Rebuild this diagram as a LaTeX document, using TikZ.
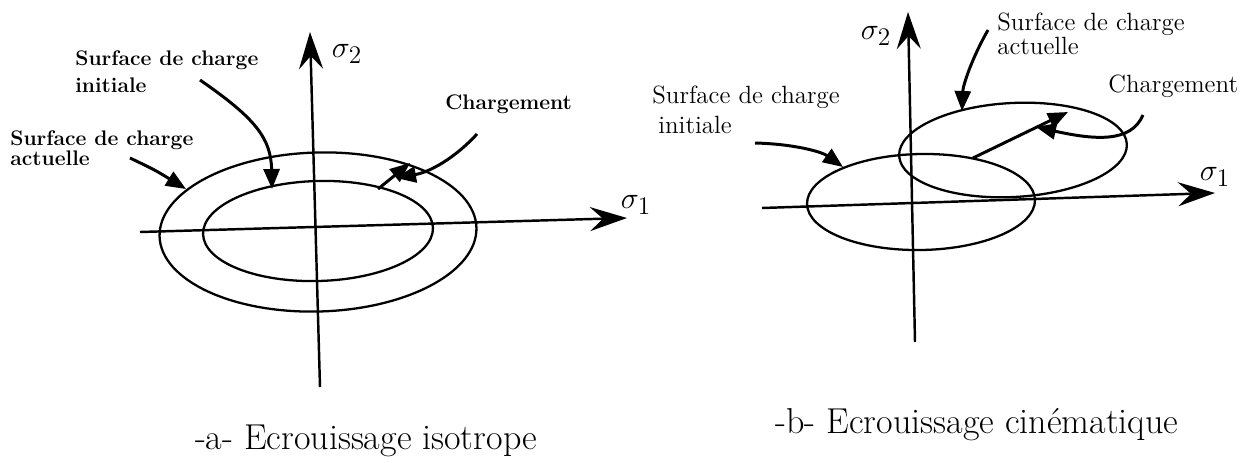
\documentclass[tikz,border=0pt]{standalone}
\usetikzlibrary{arrows.meta}
\begin{document}
\begin{tikzpicture}[x=0.02cm,y=-0.02cm,
  ax/.style={line width=1.4pt,-{Stealth[length=0.74cm,width=0.48cm,inset=0.26cm]}},
  curveline/.style={line width=1.3pt},
  lbl/.style={line width=1.7pt,-{Triangle[length=0.4cm,width=0.32cm]}},
  lt/.style={font=\bfseries\fontsize{12}{14}\selectfont,anchor=base west,inner sep=0pt},
  rt/.style={font=\fontsize{14.2}{16}\selectfont,anchor=base west,inner sep=0pt},
  sig/.style={font=\fontsize{19}{21}\selectfont,inner sep=0pt},
  captext/.style={font=\fontsize{20.5}{24}\selectfont,inner sep=0pt}]
\useasboundingbox (0,0) rectangle (1254,463);

% ---------------- panel a ----------------
\coordinate (aH0) at (140,232);
\coordinate (aH1) at (627,218);
\coordinate (aV0) at (320,387);
\coordinate (aV1) at (310,32);
\draw[ax] (aH0) -- (aH1);
\draw[ax] (aV0) -- (aV1);
\node[sig] (as1) at (636,205) {$\sigma_1$};
\node[sig] (as2) at (347,54) {$\sigma_2$};

\draw[curveline,rotate around={1.6:(318,232)}] (318,232) ellipse [x radius=158.5, y radius=79.5];
\draw[curveline,rotate around={1.6:(318,231)}] (318,231) ellipse [x radius=115, y radius=50];

\node[lt] (aI1) at (75,65) {Surface de charge};
\node[lt] (aI2) at (75,92) {initiale};
\node[lt] (aA1) at (10,145) {Surface de charge};
\node[lt] (aA2) at (10,165) {actuelle};
\node[lt] (aC) at (445,109) {Chargement};

\coordinate (aIs) at (200,80);
\coordinate (aIe) at (272,189);
\coordinate (aAs) at (130,158);
\coordinate (aAe) at (186,189);
\coordinate (aCs) at (477,134);
\coordinate (aCe) at (396,178);
\coordinate (aLs) at (378,189);
\coordinate (aLe) at (410,163);

\draw[lbl] (aIs) .. controls (255,118) and (271,138) .. (aIe);
\draw[lbl] (aAs) .. controls (155,170) .. (aAe);
\draw[lbl] (aCs) .. controls (455,158) and (430,172) .. (aCe);
\draw[lbl] (aLs) -- (aLe);

\node[captext] (capa) at (366,441) {-a- Ecrouissage isotrope};

% ---------------- panel b ----------------
\coordinate (bH0) at (762,208);
\coordinate (bH1) at (1215,193);
\coordinate (bV0) at (915,342);
\coordinate (bV1) at (908,12);
\draw[ax] (bH0) -- (bH1);
\draw[ax] (bV0) -- (bV1);
\node[sig] (bs1) at (1215,177) {$\sigma_1$};
\node[sig] (bs2) at (876,36) {$\sigma_2$};

\draw[curveline,rotate around={1:(921,202)}] (921,202) ellipse [x radius=114, y radius=48];
\draw[curveline,rotate around={3:(1013,150)}] (1013,150) ellipse [x radius=114, y radius=47];

\node[rt] (bA1) at (997,31) {Surface de charge};
\node[rt] (bA2) at (997,54) {actuelle};
\node[rt] (bI1) at (652,103) {Surface de charge};
\node[rt] (bI2) at (658,133) {initiale};
\node[rt] (bC) at (1108,92) {Chargement};

\coordinate (bAs) at (988,30);
\coordinate (bAe) at (962,111);
\coordinate (bIs) at (755,143);
\coordinate (bIe) at (843,167);
\coordinate (bCs) at (1143,115);
\coordinate (bCe) at (1036,127);
\coordinate (bLs) at (973,158);
\coordinate (bLe) at (1068,112);

\draw[lbl] (bAs) .. controls (972,58) and (963,85) .. (bAe);
\draw[lbl] (bIs) .. controls (795,144) and (822,152) .. (bIe);
\draw[lbl] (bCs) .. controls (1131,143) and (1095,140) .. (bCe);
\draw[lbl] (bLs) -- (bLe);

\node[captext] (capb) at (977,425) {-b- Ecrouissage cinématique};
\end{tikzpicture}
\end{document}
